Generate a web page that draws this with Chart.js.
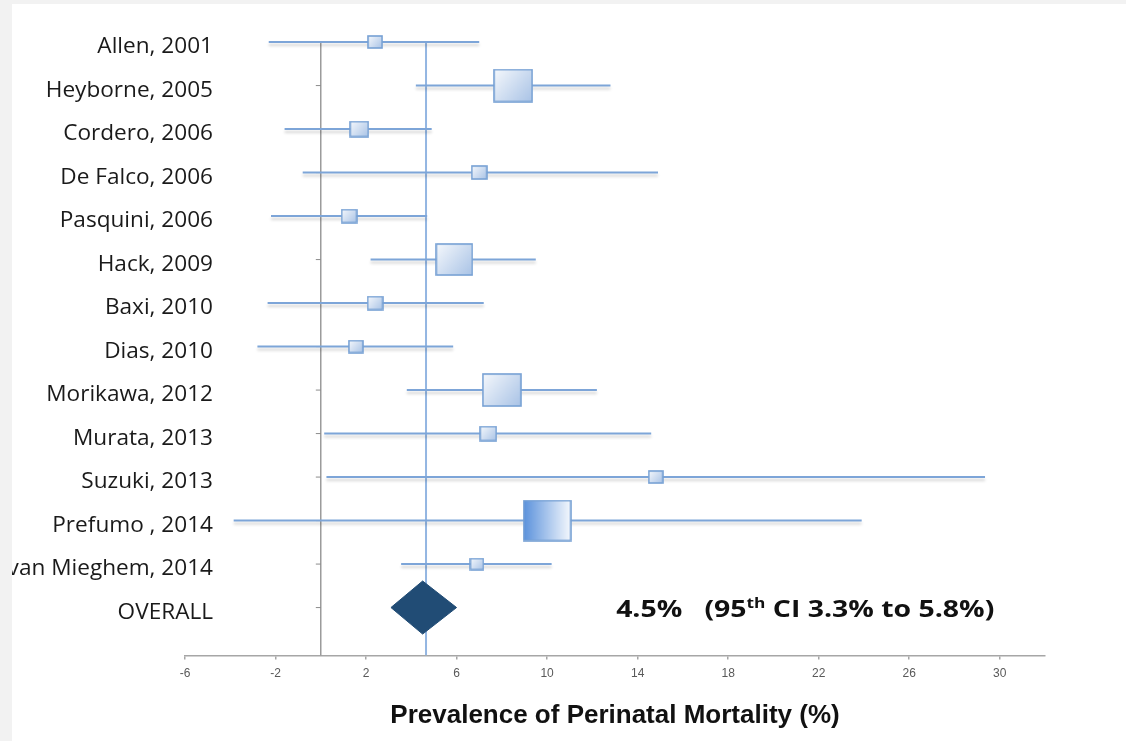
<!DOCTYPE html>
<html>
<head>
<meta charset="utf-8">
<script src="https://cdn.jsdelivr.net/npm/chart.js@4.4.1/dist/chart.umd.min.js"></script>
<style>
  html, body { margin: 0; padding: 0; background: #f2f2f2; }
  #wrap { position: absolute; left: 12px; top: 4px; width: 1114px; height: 737px; background: #fff; }
</style>
</head>
<body>
<div id="wrap"><canvas id="forest"></canvas></div>
<script>
// studies, top to bottom
const studies = ["Allen, 2001", "Heyborne, 2005", "Cordero, 2006", "De Falco, 2006", "Pasquini, 2006",
    "Hack, 2009", "Baxi, 2010", "Dias, 2010", "Morikawa, 2012", "Murata, 2013", "Suzuki, 2013",
    "Prefumo , 2014", "van Mieghem, 2014"];
const estimates = [2.4, 8.5, 1.7, 7.0, 1.25, 5.9, 2.4, 1.55, 8.0, 7.4, 14.8, 10.0, 6.9];
const ciLower = [-2.3, 4.2, -1.6, -0.8, -2.2, 2.2, -2.35, -2.8, 3.8, 0.15, 0.25, -3.85, 3.55];
const ciUpper = [7.0, 12.8, 4.9, 14.9, 4.7, 9.5, 7.2, 5.85, 12.2, 14.6, 29.35, 23.9, 10.2];
const weights = [3.6, 9.5, 4.6, 3.8, 3.8, 9.1, 3.8, 3.4, 9.6, 4.1, 3.5, 11.8, 3.2];

// pooled result
const overallLabel = "OVERALL";
const overallDiamond = [3.1, 4.5, 6.0];   // lower, estimate, upper as drawn
const overallEst = 4.5;
const overallLow = 3.3;
const overallHigh = 5.8;
const pooledLine = 4.65;

const xTicks = [-6, -2, 2, 6, 10, 14, 18, 22, 26, 30];
const xTitle = "Prevalence of Perinatal Mortality (%)";

const nRows = studies.length + 1;
const rowOf = i => nRows - i;   // Allen at top (row 14), OVERALL at row 1

function rowLabel(v) {
    if (v === 1) return overallLabel;
    const i = nRows - v;
    return studies[i] !== undefined ? studies[i] : "";
}

// gradient filled square for each study, size from its weight
function makeBox(weight, darkLeft) {
    const w = Math.round(weight * 4);
    const h = Math.round(w * 0.85);
    const c = document.createElement("canvas");
    c.width = w + 2;
    c.height = h + 2;
    const g = c.getContext("2d");
    let grad;
    if (darkLeft) {
        grad = g.createLinearGradient(1, 0, w + 1, 0);
        grad.addColorStop(0, "#5b92dc");
        grad.addColorStop(1, "#f4f8fd");
    } else {
        grad = g.createLinearGradient(1, 1, w + 1, h + 1);
        grad.addColorStop(0, "#f5f8fc");
        grad.addColorStop(1, "#a9c3e6");
    }
    g.fillStyle = grad;
    g.fillRect(1, 1, w, h);
    g.strokeStyle = "#76a0d4";
    g.lineWidth = 1.6;
    g.strokeRect(1, 1, w, h);
    return c;
}

// small tick to the left of the zero line
function makeTick() {
    const c = document.createElement("canvas");
    c.width = 12;
    c.height = 3;
    const g = c.getContext("2d");
    g.fillStyle = "#8c8c8c";
    g.fillRect(1, 1, 5, 1);
    return c;
}

let ciData = [];
studies.forEach((s, i) => {
    ciData.push({x: ciLower[i], y: rowOf(i)});
    ciData.push({x: ciUpper[i], y: rowOf(i)});
    ciData.push({x: NaN, y: NaN});
});

const boxData = estimates.map((v, i) => ({x: v, y: rowOf(i)}));
const boxStyles = weights.map((w, i) => makeBox(w, studies[i].startsWith("Prefumo")));

let tickData = [];
for (let v = 1; v <= nRows; v++) tickData.push({x: 0, y: v});

const dh = 0.61; // half height of the diamond in rows
const diamondData = [
    {x: overallDiamond[0], y: 1},
    {x: overallDiamond[1], y: 1 + dh},
    {x: overallDiamond[2], y: 1},
    {x: overallDiamond[1], y: 1 - dh},
    {x: overallDiamond[0], y: 1}
];

// soft shadow under the confidence interval lines
const lineShadow = {
    id: "lineShadow",
    beforeDatasetDraw(chart, args) {
        if (chart.data.datasets[args.index].label !== "ci") return;
        const ctx = chart.ctx;
        ctx.save();
        ctx.shadowColor = "rgba(0,0,0,0.18)";
        ctx.shadowOffsetY = 3;
        ctx.shadowBlur = 3;
    },
    afterDatasetDraw(chart, args) {
        if (chart.data.datasets[args.index].label !== "ci") return;
        chart.ctx.restore();
    }
};

// the study names run a little past the start of the x axis
const labelOverhang = {
    id: "labelOverhang",
    afterLayout(chart) {
        chart.scales.y.left = 0;
        chart.scales.y.right = chart.chartArea.left + 28;
    }
};

// "4.5%   (95th CI 3.3% to 5.8%)"
const overallText = {
    id: "overallText",
    afterDatasetsDraw(chart) {
        const ctx = chart.ctx;
        const x = chart.scales.x.getPixelForValue(13.05);
        const y = chart.scales.y.getPixelForValue(1) + 9;
        const big = "bold 23px 'Open Sans'";
        const small = "bold 14px 'Open Sans'";
        ctx.save();
        ctx.translate(x, y);
        ctx.scale(1.235, 1);
        ctx.fillStyle = "#111";
        ctx.textBaseline = "alphabetic";
        let cx = 0;
        const parts = [
            [overallEst.toFixed(1) + "%   (95", big, 0],
            ["th", small, -9],
            [" CI " + overallLow.toFixed(1) + "% to " + overallHigh.toFixed(1) + "%)", big, 0]
        ];
        for (const p of parts) {
            ctx.font = p[1];
            ctx.fillText(p[0], cx, p[2]);
            cx += ctx.measureText(p[0]).width;
        }
        ctx.restore();
    }
};

new Chart(document.getElementById("forest"), {
    type: "scatter",
    data: {
        datasets: [
            {
                label: "boxes",
                data: boxData,
                pointStyle: boxStyles,
                pointRadius: 1,
                pointHoverRadius: 1,
                order: 0,
                clip: false
            },
            {
                label: "overall",
                data: diamondData,
                showLine: true,
                fill: "shape",
                backgroundColor: "#214c75",
                borderColor: "#214c75",
                borderWidth: 1,
                pointRadius: 0,
                tension: 0,
                order: 1,
                clip: false
            },
            {
                label: "ci",
                data: ciData,
                showLine: true,
                spanGaps: false,
                borderColor: "#7da5d8",
                borderWidth: 2,
                pointRadius: 0,
                order: 2,
                clip: false
            },
            {
                label: "pooled",
                data: [{x: pooledLine, y: -0.1}, {x: pooledLine, y: nRows}],
                showLine: true,
                borderColor: "#93b6e2",
                borderWidth: 2,
                pointRadius: 0,
                order: 3
            },
            {
                label: "zero",
                data: [{x: 0, y: -0.1}, {x: 0, y: nRows}],
                showLine: true,
                borderColor: "#8c8c8c",
                borderWidth: 1.3,
                pointRadius: 0,
                order: 5
            },
            {
                label: "zeroTicks",
                data: tickData,
                pointStyle: makeTick(),
                pointRadius: 1,
                pointHoverRadius: 1,
                order: 6
            }
        ]
    },
    options: {
        responsive: true,
        maintainAspectRatio: false,
        animation: false,
        events: [],
        layout: {padding: {left: 13, right: 81, top: 38, bottom: 10}},
        plugins: {legend: {display: false}, tooltip: {enabled: false}},
        scales: {
            x: {
                type: "linear",
                min: -6,
                max: 32,
                afterBuildTicks: scale => { scale.ticks = xTicks.map(v => ({value: v})); },
                grid: {drawOnChartArea: false, tickLength: 4, color: "#a6a6a6", lineWidth: 1.5},
                border: {color: "#a6a6a6", width: 1.5},
                ticks: {
                    color: "#595959",
                    font: {family: "'Liberation Sans', Arial", size: 12},
                    padding: 7,
                    maxRotation: 0,
                    autoSkip: false
                },
                title: {
                    display: true,
                    text: xTitle,
                    color: "#111",
                    font: {family: "'Liberation Sans', Arial", size: 26, weight: "bold"},
                    padding: {top: 12, bottom: 0}
                }
            },
            y: {
                type: "linear",
                position: "left",
                min: -0.1,
                max: nRows,
                afterBuildTicks: scale => {
                    let t = [];
                    for (let v = 1; v <= nRows; v++) t.push({value: v});
                    scale.ticks = t;
                },
                afterFit: scale => { scale.width = 160; },
                grid: {display: false, drawTicks: false},
                border: {display: false},
                ticks: {
                    callback: v => rowLabel(v),
                    color: "#1a1a1a",
                    font: {family: "'Open Sans'", size: 22.6},
                    padding: 0,
                    labelOffset: 5,
                    autoSkip: false
                }
            }
        }
    },
    plugins: [lineShadow, labelOverhang, overallText]
});
</script>
</body>
</html>
